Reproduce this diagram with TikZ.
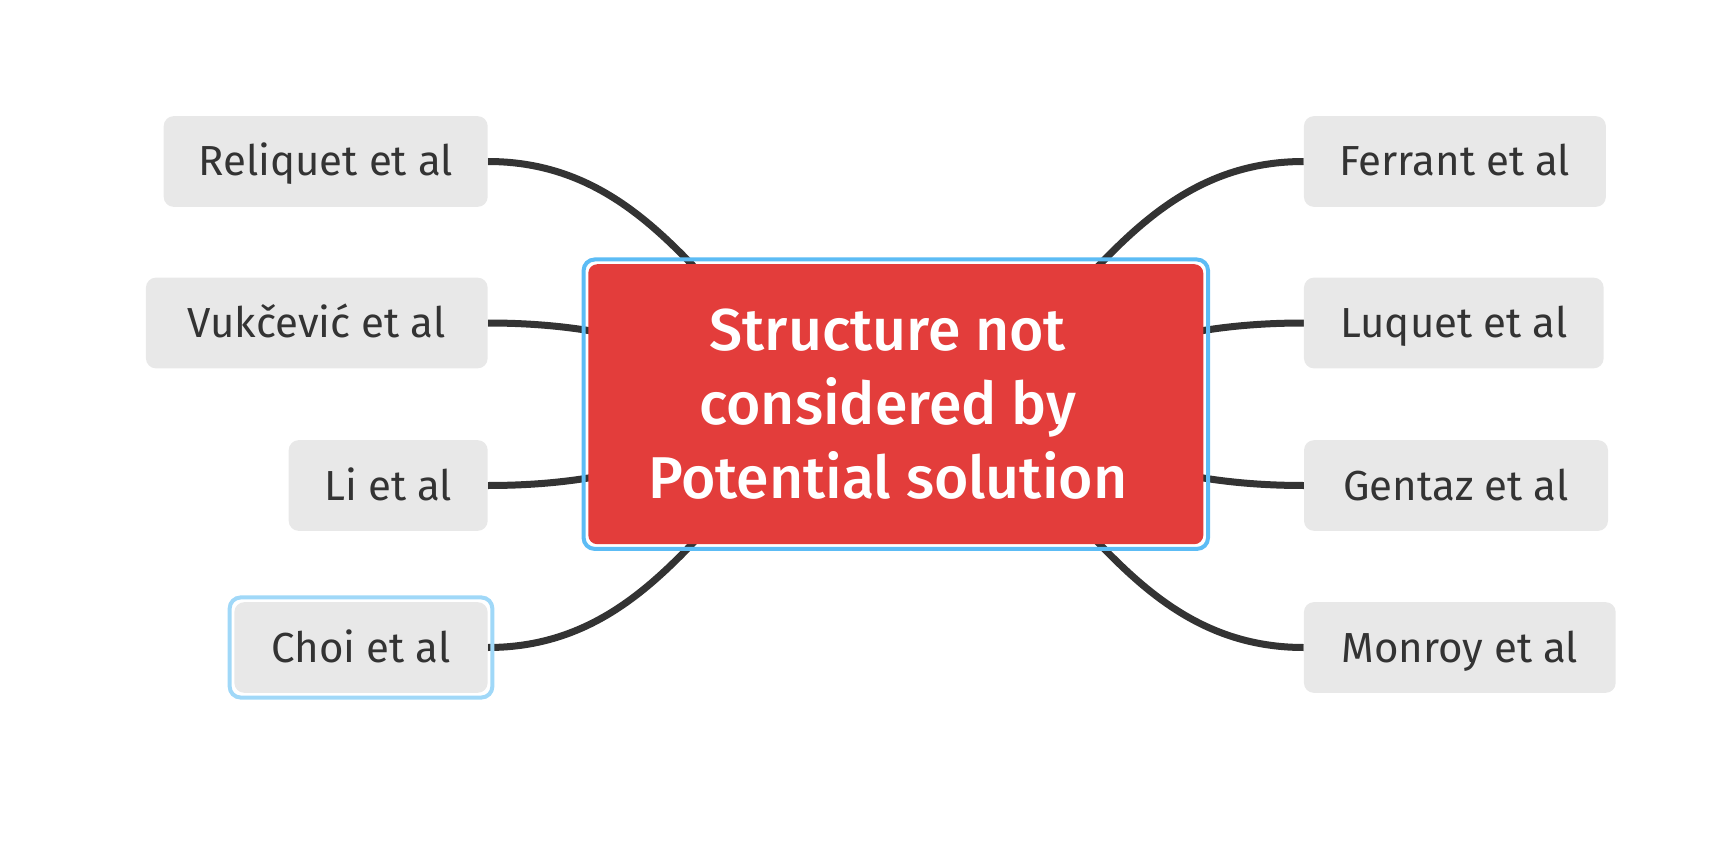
\documentclass[tikz,border=0pt]{standalone}
\usepackage{fontspec}
\setmainfont{Fira Sans}
\newfontfamily\rootfont{Fira Sans Medium}
\usetikzlibrary{fit}
\pgfdeclarelayer{bg}
\pgfsetlayers{bg,main}
\definecolor{rootred}{RGB}{227,61,59}
\definecolor{selblue}{RGB}{92,188,245}
\definecolor{lightsel}{RGB}{160,216,248}
\definecolor{leafgray}{RGB}{232,232,232}
\definecolor{ink}{RGB}{51,51,51}
\begin{document}
\begin{tikzpicture}[x=1pt,y=-1pt,
  leaf/.style={fill=leafgray, rounded corners=10pt, minimum height=90.7pt, inner sep=0pt,
    text=ink, font=\fontsize{42}{50}\selectfont, text height=29pt, text depth=0pt},
  rootbox/.style={fill=rootred, rounded corners=9pt, minimum width=615pt, minimum height=280pt,
    inner sep=0pt, text=white, align=center, font=\rootfont\fontsize{59}{74}\selectfont,
    text height=188.6pt, text depth=0pt},
  branch/.style={draw=ink, line width=7pt},
  selring/.style={draw=selblue, line width=4pt, rounded corners=11pt, inner sep=4.5pt},
  lightring/.style={draw=lightsel, line width=4pt, rounded corners=11pt, inner sep=4.5pt}
]
\useasboundingbox (0,0) rectangle (1734,842);
\node[rootbox] (root) at (895.8,404.2) {Structure not\kern16pt\\considered by\kern16pt\\Potential solution\kern16pt};
\node[leaf, minimum width=324pt]   (rel) at (325.7,161.5) {Reliquet et al};
\node[leaf, minimum width=341.7pt] (vuk) at (316.8,323.0) {Vukčević et al};
\node[leaf, minimum width=199pt]   (li)  at (388.2,485.5) {Li et al};
\node[leaf, minimum width=253.3pt] (choi) at (361.0,647.5) {Choi et al};
\node[leaf, minimum width=302pt]   (fer) at (1454.9,161.5) {Ferrant et al};
\node[leaf, minimum width=299.7pt] (luq) at (1453.8,323.0) {Luquet et al};
\node[leaf, minimum width=304pt]   (gen) at (1456.0,485.5) {Gentaz et al};
\node[leaf, minimum width=311.8pt] (mon) at (1459.8,647.5) {Monroy et al};
\node[selring, fit=(root)] (rootring) {};
\node[lightring, fit=(choi)] (choiring) {};
\begin{pgfonlayer}{bg}
\draw[branch] (rel.east) .. controls +(206,0) and +(-160,0) .. (root.center);
\draw[branch] (vuk.east) .. controls +(206,0) and +(-160,0) .. (root.center);
\draw[branch] (li.east) .. controls +(206,0) and +(-160,0) .. (root.center);
\draw[branch] (choi.east) .. controls +(206,0) and +(-160,0) .. (root.center);
\draw[branch] (fer.west) .. controls +(-206,0) and +(160,0) .. (root.center);
\draw[branch] (luq.west) .. controls +(-206,0) and +(160,0) .. (root.center);
\draw[branch] (gen.west) .. controls +(-206,0) and +(160,0) .. (root.center);
\draw[branch] (mon.west) .. controls +(-206,0) and +(160,0) .. (root.center);
\end{pgfonlayer}
\end{tikzpicture}
\end{document}
